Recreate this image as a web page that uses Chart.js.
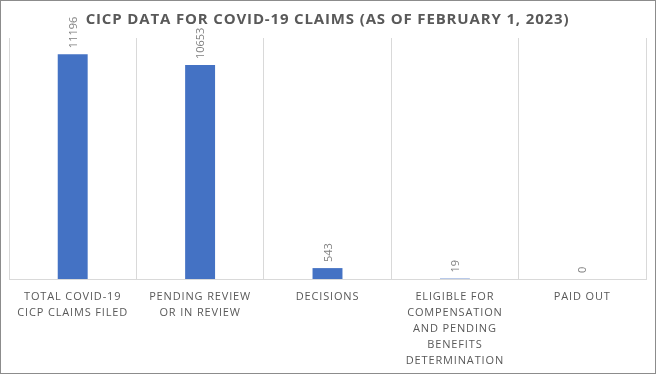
<!DOCTYPE html>
<html lang="en">
<head>
  <meta charset="UTF-8" />
  <title>CICP Data for COVID-19 Claims</title>
  <script src="https://cdn.jsdelivr.net/npm/chart.js"></script>
  <style>
    html, body { margin: 0; padding: 0; background: #fff; }
    .frame {
      width: 654px;
      height: 372px;
      border: 1px solid #8c8c8c;
      position: relative;
    }
  </style>
</head>
<body>
  <div class="frame">
    <canvas id="cicpChart" width="654" height="372"></canvas>
  </div>

  <script>
    // Data
    const categories = [
      ['TOTAL COVID-19', 'CICP CLAIMS FILED'],
      ['PENDING REVIEW', 'OR IN REVIEW'],
      ['DECISIONS'],
      ['ELIGIBLE FOR', 'COMPENSATION', 'AND PENDING', 'BENEFITS', 'DETERMINATION'],
      ['PAID OUT']
    ];
    const claims = [11196, 10653, 543, 19, 0];
    const yMax = 12000;

    // spaced-out capitals for title and category labels
    const letterSpacing = {
      id: 'letterSpacing',
      beforeDraw(chart) { chart.ctx.letterSpacing = '0.85px'; },
      afterDraw(chart) { chart.ctx.letterSpacing = '0px'; }
    };

    // vertical value labels above each bar
    const barLabels = {
      id: 'barLabels',
      afterDatasetsDraw(chart) {
        const ctx = chart.ctx;
        const meta = chart.getDatasetMeta(0);
        ctx.save();
        ctx.letterSpacing = '0px';
        ctx.font = '11px "Open Sans", sans-serif';
        ctx.fillStyle = '#7f7f7f';
        ctx.textAlign = 'left';
        ctx.textBaseline = 'middle';
        meta.data.forEach((bar, i) => {
          ctx.save();
          ctx.translate(bar.x + 1, bar.y - 6);
          ctx.rotate(-Math.PI / 2);
          ctx.fillText(String(claims[i]), 0, 0);
          ctx.restore();
        });
        ctx.restore();
      }
    };

    new Chart(document.getElementById('cicpChart'), {
      type: 'bar',
      data: {
        labels: categories,
        datasets: [{
          data: claims,
          backgroundColor: '#4472C4',
          borderWidth: 0,
          categoryPercentage: 1,
          barPercentage: 0.235
        }]
      },
      options: {
        responsive: false,
        animation: false,
        layout: { padding: { left: 8, right: 9, top: 0, bottom: 0 } },
        plugins: {
          legend: { display: false },
          tooltip: { enabled: false },
          title: {
            display: true,
            text: 'CICP DATA FOR COVID-19 CLAIMS (AS OF FEBRUARY 1, 2023)',
            color: '#595959',
            font: { family: '"Open Sans", sans-serif', size: 15, weight: 'bold', lineHeight: 1.2 },
            padding: { top: 10, bottom: 9 }
          }
        },
        scales: {
          x: {
            offset: true,
            grid: { offset: true, color: '#d9d9d9', drawTicks: false },
            border: { color: '#d9d9d9' },
            ticks: {
              color: '#595959',
              padding: 10,
              maxRotation: 0,
              autoSkip: false,
              font: { family: '"Open Sans", sans-serif', size: 11, lineHeight: 1.45 }
            },
            afterFit(scale) { scale.height = 94; }
          },
          y: {
            display: false,
            min: 0,
            max: yMax
          }
        }
      },
      plugins: [letterSpacing, barLabels]
    });
  </script>
</body>
</html>
